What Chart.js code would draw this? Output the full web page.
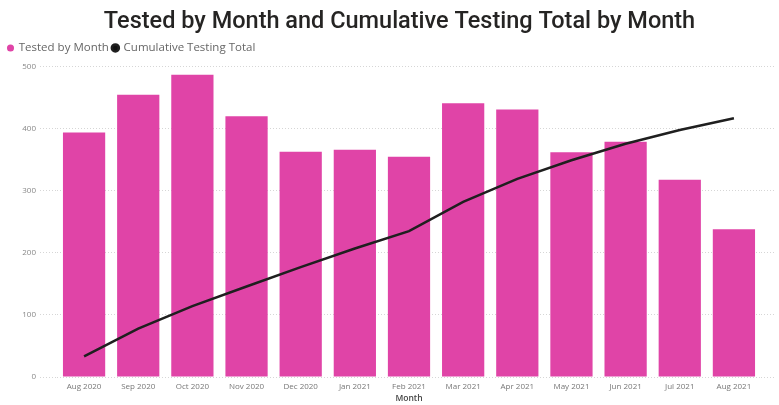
<!DOCTYPE html>
<html>
<head>
<meta charset="utf-8">
<script src="https://cdn.jsdelivr.net/npm/chart.js@4/dist/chart.umd.min.js"></script>
<style>
  html, body { margin: 0; padding: 0; background: #fff; }
  canvas { display: block; }
</style>
</head>
<body>
<canvas id="chart" width="779" height="405"></canvas>
<script>
const months = ['Aug 2020', 'Sep 2020', 'Oct 2020', 'Nov 2020', 'Dec 2020', 'Jan 2021', 'Feb 2021',
  'Mar 2021', 'Apr 2021', 'May 2021', 'Jun 2021', 'Jul 2021', 'Aug 2021'];
const tested = [394, 455, 487, 420, 363, 366, 355, 441, 431, 362, 379, 318, 238];
const cumulative = [400, 935, 1370, 1750, 2125, 2485, 2820, 3385, 3830, 4190, 4510, 4775, 5005];
const leftTicks = [0, 100, 200, 300, 400, 500];

const gridColor = '#d6d6d6';
const tickFont = { family: 'Open Sans', size: 8 };

// a little more room under the legend, legend nudged left, title nudged right
const tweaks = {
  id: 'tweaks',
  beforeInit(chart) {
    const legend = chart.legend;
    const fit = legend.fit;
    legend.fit = function () {
      fit.call(this);
      this.height += 3;
    };
    const drawLegend = legend.draw;
    legend.draw = function (area) {
      chart.ctx.save();
      chart.ctx.translate(-4, 0);
      drawLegend.call(this, area);
      chart.ctx.restore();
    };
    const title = chart.titleBlock;
    const drawTitle = title.draw;
    title.draw = function (area) {
      chart.ctx.save();
      chart.ctx.translate(8, 0);
      drawTitle.call(this, area);
      chart.ctx.restore();
    };
  }
};

new Chart(document.getElementById('chart'), {
  type: 'bar',
  data: {
    labels: months,
    datasets: [
      {
        type: 'line',
        label: 'Cumulative Testing Total',
        data: cumulative,
        yAxisID: 'y1',
        borderColor: '#1f1f1f',
        backgroundColor: '#111',
        borderWidth: 2.5,
        pointRadius: 0,
        tension: 0,
        order: 0
      },
      {
        label: 'Tested by Month',
        data: tested,
        yAxisID: 'y',
        backgroundColor: '#E044A7',
        categoryPercentage: 1,
        barPercentage: 0.78,
        order: 1
      }
    ]
  },
  options: {
    responsive: false,
    animation: false,
    layout: { padding: { left: 8, right: 4, top: 0, bottom: 0 } },
    plugins: {
      title: {
        display: true,
        text: 'Tested by Month and Cumulative Testing Total by Month',
        color: '#252423',
        font: { family: 'Roboto', size: 23.5, weight: '500' },
        padding: { top: 8, bottom: 2 }
      },
      legend: {
        align: 'start',
        reverse: true,
        labels: {
          usePointStyle: true,
          pointStyle: 'circle',
          boxWidth: 5,
          boxHeight: 5,
          padding: 4,
          color: '#666',
          font: { family: 'Open Sans', size: 11.5 }
        }
      },
      tooltip: { enabled: false }
    },
    scales: {
      x: {
        afterFit(scale) { scale.height = 28; },
        grid: { display: false, drawTicks: false, tickLength: 0 },
        border: { display: false },
        ticks: { color: '#777', font: tickFont, maxRotation: 0, autoSkip: false, padding: 5 },
        title: {
          display: true,
          text: 'Month',
          color: '#444',
          font: { family: 'Open Sans', size: 8.5, weight: '600' },
          padding: { top: 1, bottom: 1 }
        }
      },
      y: {
        min: 0,
        max: 500,
        afterFit(scale) { scale.width = 49; },
        afterBuildTicks(scale) { scale.ticks = leftTicks.map(v => ({ value: v })); },
        border: { display: false, dash: [1, 2] },
        grid: {
          color: gridColor,
          tickLength: 17,
          tickColor: gridColor,
          tickBorderDash: [1, 2],
          lineWidth: 1
        },
        ticks: { color: '#888', font: tickFont, padding: 4 }
      },
      y1: {
        position: 'right',
        min: 0,
        max: 6000,
        border: { display: false },
        grid: {
          drawOnChartArea: false,
          tickLength: 14,
          tickColor: gridColor,
          tickBorderDash: [1, 2]
        },
        ticks: { display: false, stepSize: 1200 }
      }
    }
  },
  plugins: [tweaks]
});
</script>
</body>
</html>
